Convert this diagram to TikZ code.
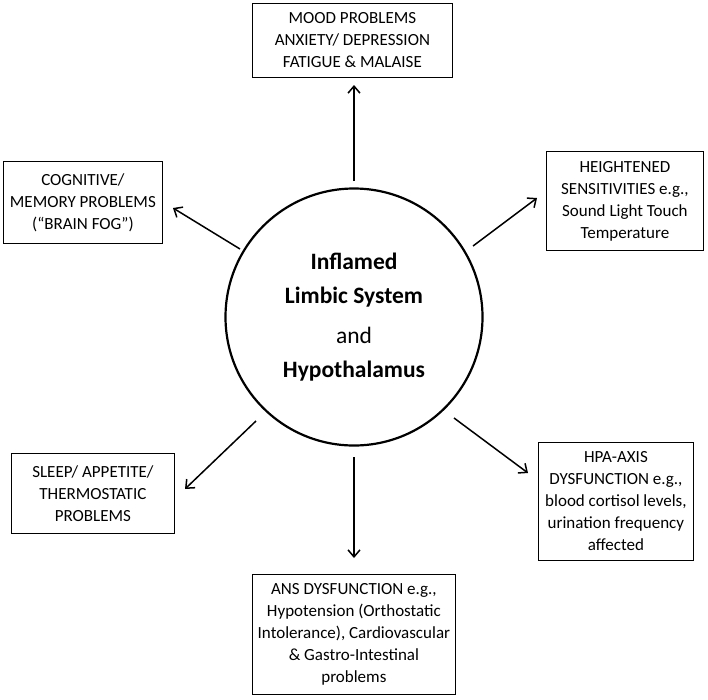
\documentclass[tikz,border=0pt]{standalone}
\usepackage{fontspec}
\setmainfont{Carlito}
\usetikzlibrary{arrows.meta}
\begin{document}
\begin{tikzpicture}[x=1pt,y=-1pt,
 box/.style={draw,line width=0.8pt,font=\fontsize{17}{22}\selectfont,inner sep=3pt,align=center},
 arr/.style={line width=1.5pt,-{Straight Barb[length=7pt,width=12pt]}}]
\useasboundingbox (0,0) rectangle (708,699);
\node[draw,circle,line width=2.2pt,minimum size=257pt,align=center,font=\fontsize{23.5}{34}\selectfont] (c) at (354,317)
 {\textbf{Inflamed}\\\textbf{Limbic System}\\[6pt]and\\\textbf{Hypothalamus}};
\node[box,minimum width=200pt,minimum height=74pt,anchor=north west] (t) at (252,3)
 {MOOD PROBLEMS\\ANXIETY/ DEPRESSION\\FATIGUE \& MALAISE};
\node[box,minimum width=159pt,minimum height=82pt,anchor=north west] (lt) at (3,161)
 {COGNITIVE/\\MEMORY PROBLEMS\\(``BRAIN FOG'')};
\node[box,minimum width=157pt,minimum height=99pt,anchor=north west] (rt) at (546,151)
 {HEIGHTENED\\SENSITIVITIES e.g.,\\Sound Light Touch\\Temperature};
\node[box,minimum width=163pt,minimum height=80pt,anchor=north west] (lb) at (11,453)
 {SLEEP/ APPETITE/\\THERMOSTATIC\\PROBLEMS};
\node[box,minimum width=155pt,minimum height=118pt,anchor=north west] (rb) at (538,442)
 {HPA-AXIS\\DYSFUNCTION e.g.,\\blood cortisol levels,\\urination frequency\\affected};
\node[box,minimum width=203pt,minimum height=120pt,anchor=north west] (b) at (252,574)
 {ANS DYSFUNCTION e.g.,\\Hypotension (Orthostatic\\Intolerance), Cardiovascular\\\& Gastro-Intestinal\\problems};
\coordinate (a1) at (354,181); \coordinate (e1) at (354,85);
\coordinate (a2) at (240,249); \coordinate (e2) at (173,208);
\coordinate (a3) at (473,246); \coordinate (e3) at (537,198);
\coordinate (a4) at (256,421); \coordinate (e4) at (185,489);
\coordinate (a5) at (454,418); \coordinate (e5) at (528,473);
\coordinate (a6) at (354,457); \coordinate (e6) at (354,558);
\draw[arr] (a1) -- (e1);
\draw[arr] (a2) -- (e2);
\draw[arr] (a3) -- (e3);
\draw[arr] (a4) -- (e4);
\draw[arr] (a5) -- (e5);
\draw[arr] (a6) -- (e6);
\end{tikzpicture}
\end{document}
